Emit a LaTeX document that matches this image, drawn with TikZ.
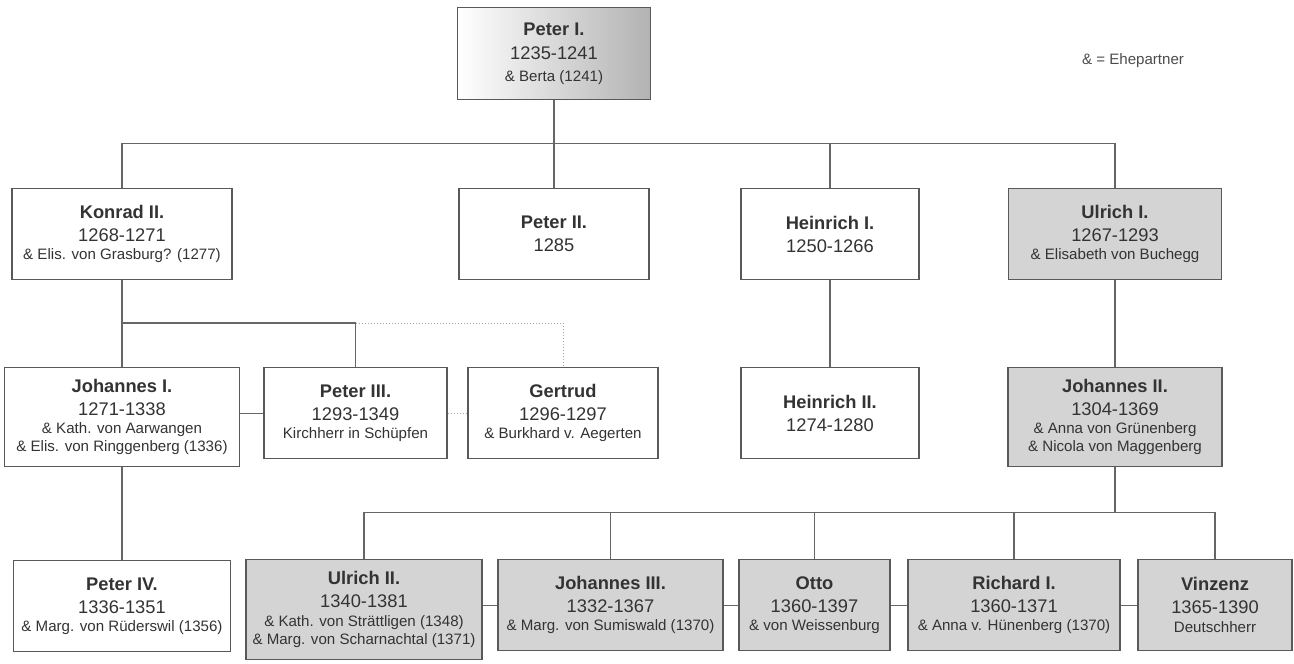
\documentclass[tikz,border=0pt]{standalone}
\usepackage{fontspec}
\setmainfont{Liberation Sans}

\newcommand{\nm}[1]{{\fontsize{18.3}{18}\selectfont\bfseries #1}}
\newcommand{\yr}[1]{{\fontsize{18.3}{18}\selectfont #1}}

\tikzset{
        person/.style={draw=black!65, line width=1.2pt, fill=white, inner sep=0pt,
                align=center, anchor=north, text=black!80, font=\fontsize{15.1}{18}\selectfont},
        heir/.style={person, fill=black!17},
        founder/.style={person, left color=white, middle color=black!6, right color=black!30},
        link/.style={draw=black!60, line width=1.2pt},
        uncertain/.style={draw=black!35, line width=1pt, dotted},
        key/.style={text=black!70, font=\fontsize{15.1}{18}\selectfont, inner sep=0pt},
}

\begin{document}
\begin{tikzpicture}[x=1pt, y=-1pt]
        \useasboundingbox (0,0) rectangle (1294,664);

        \node[founder, minimum width=193pt, minimum height=92pt] (pe1) at (554,7)
                {\nm{Peter I.}\\[6pt]\yr{1235-1241}\\[4pt]\& Berta (1241)};
        \node[key] (ehe) at (1133,61) {\& = Ehepartner};

        \node[person, minimum width=220pt, minimum height=91pt] (ko2) at (122,188)
                {\nm{Konrad II.}\\[5pt]\yr{1268-1271}\\[0.5pt]\& Elis. von Grasburg? (1277)};
        \node[person, minimum width=190pt, minimum height=91pt] (pe2) at (554,188)
                {\nm{Peter II.}\\[5pt]\yr{1285}};
        \node[person, minimum width=178pt, minimum height=91pt] (he1) at (830,188)
                {\nm{Heinrich I.}\\[5pt]\yr{1250-1266}};
        \node[heir, minimum width=213pt, minimum height=91pt] (ul1) at (1115,188)
                {\nm{Ulrich I.}\\[5pt]\yr{1267-1293}\\[0.5pt]\& Elisabeth von Buchegg};

        \node[person, minimum width=235pt, minimum height=99pt] (jo1) at (122,367)
                {\nm{Johannes I.}\\[5pt]\yr{1271-1338}\\[0.5pt]\& Kath. von Aarwangen\\\& Elis. von Ringgenberg (1336)};
        \node[person, minimum width=183pt, minimum height=91pt] (pe3) at (355.5,367)
                {\nm{Peter III.}\\[5pt]\yr{1293-1349}\\[0.5pt]Kirchherr in Schüpfen};
        \node[person, minimum width=190pt, minimum height=91pt] (ge) at (563,367)
                {\nm{Gertrud}\\[5pt]\yr{1296-1297}\\[0.5pt]\& Burkhard v. Aegerten};
        \node[person, minimum width=178pt, minimum height=91pt] (he2) at (830,367)
                {\nm{Heinrich II.}\\[5pt]\yr{1274-1280}};
        \node[heir, minimum width=214pt, minimum height=99pt] (jo2) at (1115,367)
                {\nm{Johannes II.}\\[5pt]\yr{1304-1369}\\[0.5pt]\& Anna von Grünenberg\\\& Nicola von Maggenberg};

        \node[person, minimum width=217pt, minimum height=91pt] (pe4) at (122,560)
                {\nm{Peter IV.}\\[5pt]\yr{1336-1351}\\[0.5pt]\& Marg. von Rüderswil (1356)};
        \node[heir, minimum width=236pt, minimum height=100pt] (ul2) at (364,559)
                {\nm{Ulrich II.}\\[5pt]\yr{1340-1381}\\[0.5pt]\& Kath. von Strättligen (1348)\\\& Marg. von Scharnachtal (1371)};
        \node[heir, minimum width=225pt, minimum height=91pt] (jo3) at (610.5,559)
                {\nm{Johannes III.}\\[5pt]\yr{1332-1367}\\[0.5pt]\& Marg. von Sumiswald (1370)};
        \node[heir, minimum width=151pt, minimum height=91pt] (ot) at (814.5,559)
                {\nm{Otto}\\[5pt]\yr{1360-1397}\\[0.5pt]\& von Weissenburg};
        \node[heir, minimum width=212pt, minimum height=91pt] (ri1) at (1014,559)
                {\nm{Richard I.}\\[5pt]\yr{1360-1371}\\[0.5pt]\& Anna v. Hünenberg (1370)};
        \node[heir, minimum width=154pt, minimum height=91pt] (vi) at (1215,559)
                {\nm{Vinzenz}\\[5pt]\yr{1365-1390}\\[0.5pt]Deutschherr};

        \coordinate (g1) at (554,143.5);
        \coordinate (g2) at (122,323);
        \coordinate (g3) at (1115,512.5);

        \draw[link] (pe1) -- (pe2);
        \draw[link] (ko2.north) |- (g1) -| (ul1.north);
        \draw[link] (g1) -| (he1.north);

        \draw[link] (ko2) -- (jo1);
        \draw[link] (g2) -| (pe3.north);
        \draw[uncertain] (pe3.north |- g2) -| (ge.north);
        \draw[link] (pe3.west) -- (pe3.west -| jo1.east);
        \draw[uncertain] (pe3) -- (ge);
        \draw[link] (he1) -- (he2);
        \draw[link] (ul1) -- (jo2);

        \draw[link] (jo1) -- (pe4);
        \draw[link] (jo2.south) -- (g3);
        \draw[link] (ul2.north) |- (g3) -| (vi.north);
        \foreach \c in {jo3,ot,ri1}
                \draw[link] (\c.north) -- (\c.north |- g3);
        \draw[link] (jo3.west) -- (jo3.west -| ul2.east);
        \foreach \a/\b in {jo3/ot,ot/ri1,ri1/vi}
                \draw[link] (\a) -- (\b);
\end{tikzpicture}
\end{document}
